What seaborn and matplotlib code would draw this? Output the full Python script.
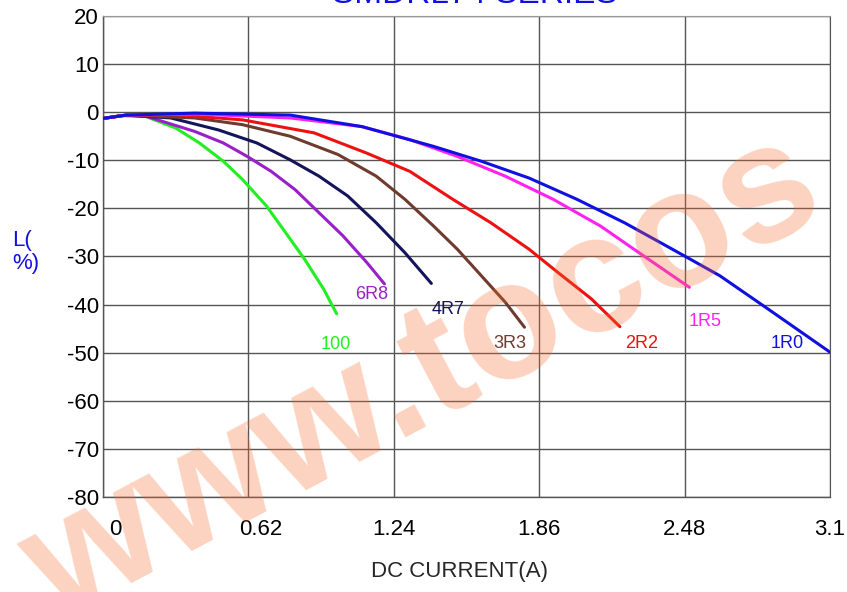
import pandas as pd
import matplotlib
matplotlib.use('Agg')
import matplotlib.pyplot as plt
import matplotlib.transforms as mtransforms
import seaborn as sns

# --- data ---
names = ['100', '6R8', '4R7', '3R3', '2R2', '1R5', '1R0']
colors = ['#22ee22', '#9a1fc8', '#14145a', '#6e3b2e', '#ee1111', '#ff22ee', '#1010e0']

x_100 = [0.0, 0.08, 0.167, 0.31, 0.411, 0.513, 0.595, 0.697, 0.778, 0.86, 0.941, 0.996]
y_100 = [-1.3, -0.7, -0.6, -3.3, -6.4, -10.2, -14.0, -19.5, -25.0, -30.6, -36.8, -41.9]

x_6r8 = [0.0, 0.08, 0.187, 0.391, 0.513, 0.615, 0.717, 0.819, 0.921, 1.023, 1.124, 1.2]
y_6r8 = [-1.3, -0.7, -0.9, -4.0, -6.4, -9.2, -12.3, -16.1, -20.9, -25.7, -31.2, -35.7]

x_4r7 = [0.0, 0.1, 0.289, 0.493, 0.656, 0.798, 0.921, 1.043, 1.165, 1.287, 1.4]
y_4r7 = [-1.3, -0.6, -1.2, -3.7, -6.4, -9.9, -13.3, -17.4, -23.0, -29.2, -35.6]

x_3r3 = [0.0, 0.1, 0.391, 0.595, 0.798, 1.002, 1.165, 1.287, 1.41, 1.511, 1.613, 1.715, 1.797]
y_3r3 = [-1.3, -0.6, -1.2, -2.6, -5.0, -8.8, -13.3, -18.1, -23.7, -28.5, -34.0, -39.5, -44.7]

x_2r2 = [0.0, 0.1, 0.3, 0.595, 0.9, 1.124, 1.308, 1.491, 1.654, 1.817, 1.939, 2.082, 2.204]
y_2r2 = [-1.3, -0.6, -0.5, -1.6, -4.3, -8.5, -12.3, -18.1, -23.0, -28.5, -33.3, -38.8, -44.6]

x_1r5 = [0.0, 0.1, 0.4, 0.798, 1.104, 1.308, 1.511, 1.715, 1.919, 2.122, 2.285, 2.5]
y_1r5 = [-1.3, -0.6, -0.4, -1.2, -3.0, -5.7, -9.2, -13.3, -18.1, -23.7, -29.2, -36.4]

x_1r0 = [0.0, 0.1, 0.391, 0.798, 1.104, 1.409, 1.613, 1.817, 2.02, 2.224, 2.428, 2.63, 2.835, 3.1]
y_1r0 = [-1.3, -0.6, -0.2, -0.6, -3.0, -7.1, -10.2, -13.7, -18.1, -23.0, -28.5, -34.0, -40.9, -49.9]

label_x = [0.994, 1.146, 1.47, 1.734, 2.296, 2.566, 2.917]
label_y = [-48.3, -37.8, -41.0, -48.1, -48.1, -43.5, -48.1]

xticks = [0, 0.62, 1.24, 1.86, 2.48, 3.1]
xtick_labels = ['0', '0.62', '1.24', '1.86', '2.48', '3.1']
yticks = [20, 10, 0, -10, -20, -30, -40, -50, -60, -70, -80]

frames = []
for n, xs, ys in zip(names,
                     [x_100, x_6r8, x_4r7, x_3r3, x_2r2, x_1r5, x_1r0],
                     [y_100, y_6r8, y_4r7, y_3r3, y_2r2, y_1r5, y_1r0]):
    frames.append(pd.DataFrame({'current': xs, 'change': ys, 'part': n}))
df = pd.concat(frames, ignore_index=True)

sns.set_style('white')
plt.rcParams['font.family'] = ['Liberation Sans', 'DejaVu Sans']
plt.rcParams['axes.unicode_minus'] = False

fig = plt.figure(figsize=(8.47, 5.92), dpi=100)
ax = fig.add_axes([0.1216, 0.1605, 0.8584, 0.8125])

sns.lineplot(data=df, x='current', y='change', hue='part', palette=dict(zip(names, colors)),
             sort=False, estimator=None, legend=False, linewidth=2.2, ax=ax, zorder=3)

for n, c, lx, ly in zip(names, colors, label_x, label_y):
    ax.text(lx, ly, n, color=c, fontsize=13, ha='center', va='center', zorder=4)

ax.set_xlim(0, 3.1)
ax.set_ylim(-80, 20)
ax.set_xticks(xticks)
ax.set_xticklabels(xtick_labels)
ax.set_yticks(yticks)
ax.tick_params(axis='both', length=0, labelsize=16, colors='black')
ax.tick_params(axis='x', pad=16)
ax.tick_params(axis='y', pad=3)
# first two x labels sit a bit right of their grid lines in the original
for lbl in ax.get_xticklabels()[:2]:
    lbl.set_transform(lbl.get_transform() + mtransforms.ScaledTranslation(0.12, 0, fig.dpi_scale_trans))
ax.grid(True, color='#555555', linewidth=1)
for s in ['left', 'bottom']:
    ax.spines[s].set_color('#555555')
    ax.spines[s].set_linewidth(1)
ax.spines['top'].set_color('#999999')
ax.spines['right'].set_color('#555555')
ax.set_xlabel('')
ax.set_ylabel('')

fig.text(0.543, 0.034, 'DC CURRENT(A)', fontsize=16, ha='center', va='center')
fig.text(0.014, 0.574, 'L(\n%)', fontsize=16, color='#1010e0', ha='left', va='center', linespacing=1.1)
fig.text(0.56, 0.995, 'SMDRL74 SERIES', fontsize=24, color='#1010e0', ha='center', va='baseline')

# watermark
fig.text(0.5, 0.36, 'www.tocos', fontsize=120, fontweight='bold', color='#f86a2e', alpha=0.3,
         rotation=28, ha='center', va='center', zorder=10)

fig.savefig('out.png', dpi=100)
